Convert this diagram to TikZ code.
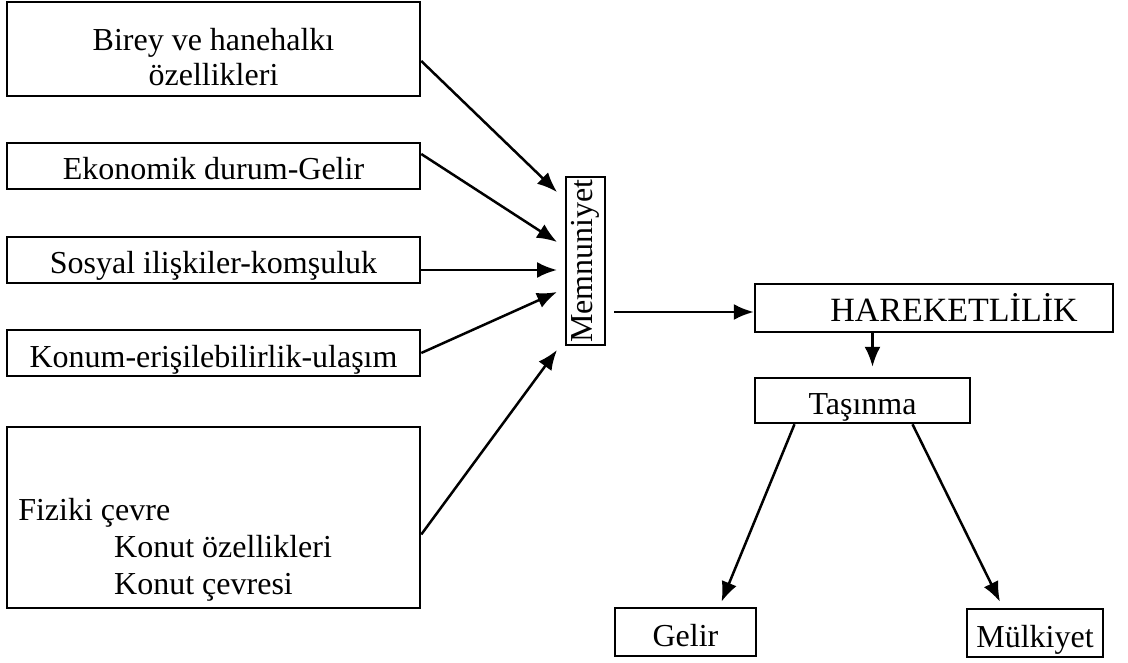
\documentclass[tikz,border=0pt]{standalone}
\usepackage{fontspec}
\setmainfont{Liberation Serif}
\usetikzlibrary{arrows.meta,calc}
\begin{document}
\begin{tikzpicture}[x=1pt,y=-1pt,>={Latex[length=20pt,width=16pt]},line width=2.5pt,
  kutu/.style={draw,inner sep=0pt,align=center,font=\fontsize{32}{36}\selectfont},
  tek/.style={text height=28pt,text depth=0pt},
  yazi/.style={inner sep=0pt,font=\fontsize{32}{37}\selectfont}]
\useasboundingbox (0,0) rectangle (1128,663);

\node[kutu,minimum width=413pt,minimum height=94pt] (birey) at (213.5,49) {};
\node[yazi,align=center,font=\fontsize{32}{35}\selectfont] (bireyyazi) at ($(birey)+(0,8)$) {Birey ve hanehalkı\\özellikleri};
\node[kutu,tek,minimum width=413pt,minimum height=46pt] (ekonomi) at (213.5,166) {Ekonomik durum-Gelir};
\node[kutu,tek,minimum width=413pt,minimum height=46pt] (sosyal) at (213.5,260) {Sosyal ilişkiler-komşuluk};
\node[kutu,tek,minimum width=413pt,minimum height=46pt] (konum) at (213.5,353) {Konum-erişilebilirlik-ulaşım};
\node[kutu,minimum width=413pt,minimum height=181pt] (fiziki) at (213.5,517.5) {};
\node[yazi,align=left,anchor=west] (fizikiyazi) at (17,550)
  {Fiziki çevre\\\hspace*{96pt}Konut özellikleri\\\hspace*{96pt}Konut çevresi};

\node[kutu,minimum width=39pt,minimum height=168pt] (memnun) at (585.5,261) {\rotatebox{90}{Memnuniyet}};
\node[kutu,tek,minimum width=358pt,minimum height=48pt,font=\fontsize{34}{38}\selectfont] (hareket) at (934,308)
  {\hspace*{40pt}HAREKETLİLİK};
\node[kutu,tek,minimum width=215pt,minimum height=45pt] (tasinma) at (862.5,400.5) {Taşınma};
\node[kutu,tek,minimum width=141pt,minimum height=48pt] (gelir) at (685.5,632) {Gelir};
\node[kutu,tek,minimum width=136pt,minimum height=48pt] (mulk) at (1035,633) {Mülkiyet};

\coordinate (M1) at (557,192);
\coordinate (M2) at (557,242);
\coordinate (M3) at (557,270);
\coordinate (M4) at (557,292);
\coordinate (M5) at (557,350);

\draw[->] ($(birey.east)+(0,12)$) -- (M1);
\draw[->] ($(ekonomi.east)+(0,-12)$) -- (M2);
\draw[->] ($(sosyal.east)+(0,10)$) -- (M3);
\draw[->] (konum.east) -- (M4);
\draw[->] ($(fiziki.east)+(0,17)$) -- (M5);

\draw[->] ($(memnun.east |- hareket.west)+(8,4)$) -- ($(hareket.west)+(0,4)$);
\draw[->] ($(hareket.south -| tasinma.north)+(10,0)$) -- ($(tasinma.north)+(10,-10)$);
\draw[->] ($(tasinma.south)+(-68,0)$) -- ($(gelir.north)+(36,-5)$);
\draw[->] ($(tasinma.south)+(50,0)$) -- ($(mulk.north)+(-35,-6)$);

\end{tikzpicture}
\end{document}
